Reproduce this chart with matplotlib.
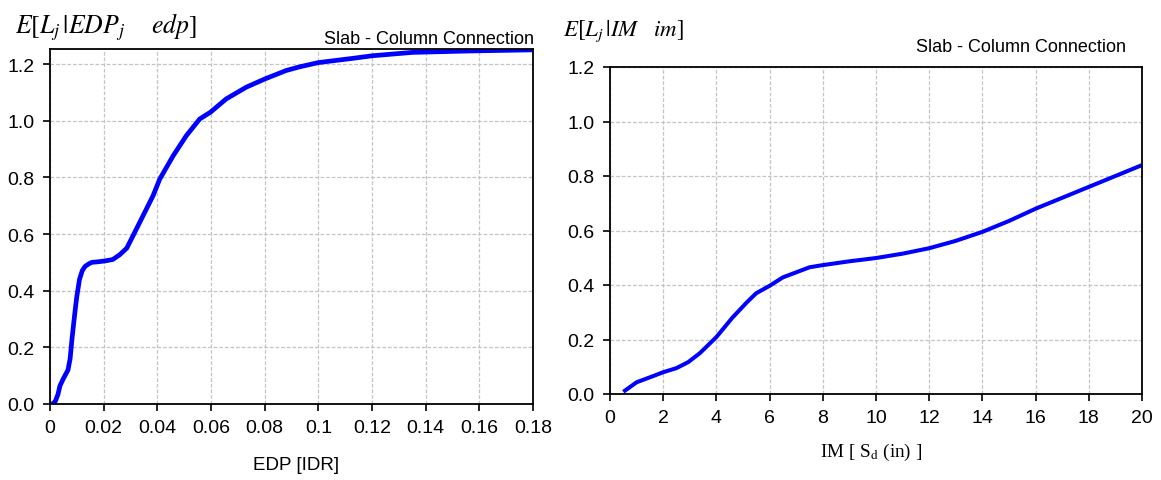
import matplotlib
matplotlib.use("Agg")
import matplotlib.pyplot as plt

# ---- data ----
edp = [0.0, 0.001, 0.002, 0.003, 0.0037, 0.005, 0.0067, 0.0075, 0.0082, 0.0093, 0.010,
       0.011, 0.012, 0.013, 0.0145, 0.0156, 0.018, 0.0205, 0.0234, 0.026, 0.0286, 0.031,
       0.0347, 0.0384, 0.0409, 0.0459, 0.0508, 0.0558, 0.0598, 0.0657, 0.0731, 0.080,
       0.088, 0.093, 0.100, 0.1128, 0.120, 0.135, 0.156, 0.180]
loss_edp = [0.0, 0.0, 0.01, 0.035, 0.064, 0.09, 0.12, 0.16, 0.23, 0.325, 0.38,
            0.44, 0.47, 0.485, 0.495, 0.50, 0.502, 0.505, 0.51, 0.527, 0.55, 0.595,
            0.665, 0.735, 0.794, 0.876, 0.947, 1.006, 1.03, 1.077, 1.118, 1.147,
            1.177, 1.19, 1.205, 1.22, 1.229, 1.241, 1.246, 1.25]

im = [0.5, 1.0, 1.63, 2.0, 2.5, 2.94, 3.38, 4.0, 4.6, 5.15, 5.5, 6.0, 6.5, 7.5, 8.0,
      9.0, 10.0, 11.0, 12.0, 13.0, 14.0, 15.0, 16.0, 17.0, 18.0, 19.0, 20.0]
loss_im = [0.008, 0.043, 0.066, 0.08, 0.095, 0.117, 0.15, 0.209, 0.28, 0.337, 0.37,
           0.397, 0.428, 0.465, 0.473, 0.487, 0.499, 0.515, 0.535, 0.562, 0.595,
           0.635, 0.68, 0.72, 0.76, 0.80, 0.84]

edp_ticks = [0, 0.02, 0.04, 0.06, 0.08, 0.1, 0.12, 0.14, 0.16, 0.18]
edp_ticklabels = ["0", "0.02", "0.04", "0.06", "0.08", "0.1", "0.12", "0.14", "0.16", "0.18"]
im_ticks = [0, 2, 4, 6, 8, 10, 12, 14, 16, 18, 20]
y_ticks = [0.0, 0.2, 0.4, 0.6, 0.8, 1.0, 1.2]

plt.rcParams['font.family'] = ['Liberation Sans', 'DejaVu Sans']
plt.rcParams['mathtext.fontset'] = 'stix'

fig = plt.figure(figsize=(11.61, 4.81), dpi=100)
W, H = 1161, 481

def add_ax(x0, x1, ytop, ybot):
    return fig.add_axes([x0 / W, 1 - ybot / H, (x1 - x0) / W, (ybot - ytop) / H])

ax1 = add_ax(50, 533, 50, 405)
ax2 = add_ax(610, 1142, 68, 395)

grid_kw = dict(color="#c4c4c4", linestyle=(0, (3, 1.5)), linewidth=0.9)

for ax in (ax1, ax2):
    ax.grid(True, **grid_kw)
    ax.set_axisbelow(True)
    for s in ax.spines.values():
        s.set_linewidth(1.3)
        s.set_color("black")
    ax.tick_params(direction="out", length=5, width=1.2, labelsize=14, pad=6)
    ax.set_yticks(y_ticks)
    ax.set_yticklabels([f"{v:.1f}" for v in y_ticks])

# left panel
ax1.plot(edp, loss_edp, color="#0000ff", linewidth=3.4, solid_capstyle="butt")
ax1.set_xlim(0, 0.18)
ax1.set_ylim(0, 1.253)
ax1.set_xticks(edp_ticks)
ax1.set_xticklabels(edp_ticklabels)
ax1.set_xlabel("EDP [IDR]", fontsize=13.5)
ax1.xaxis.set_label_coords((296 - 50) / 483, -(457 - 405) / 355, transform=ax1.transAxes)
fig.text(15 / W, 1 - 27 / H, r"$E[L_j\,|EDP_j\quad\;\, edp]$", fontsize=18.5,
         ha="left", va="center")
fig.text(534 / W, 1 - 40 / H, "Slab - Column Connection", fontsize=13,
         ha="right", va="center")

# right panel
ax2.plot(im, loss_im, color="#0000ff", linewidth=2.9, solid_capstyle="butt")
ax2.set_xlim(0, 20)
ax2.set_ylim(0, 1.2)
ax2.set_xticks(im_ticks)
ax2.set_xlabel(r"IM [ S$_{\mathrm{d}}$ (in) ]", fontsize=13.8,
               family="Liberation Serif")
ax2.xaxis.set_label_coords((871 - 610) / 532, -(442 - 395) / 327, transform=ax2.transAxes)
fig.text(563 / W, 1 - 31 / H, r"$E[L_j\,|IM\quad im]$", fontsize=16.5,
         ha="left", va="center")
fig.text(1126 / W, 1 - 47 / H, "Slab - Column Connection", fontsize=13,
         ha="right", va="center")

fig.savefig("out.png", dpi=100)
